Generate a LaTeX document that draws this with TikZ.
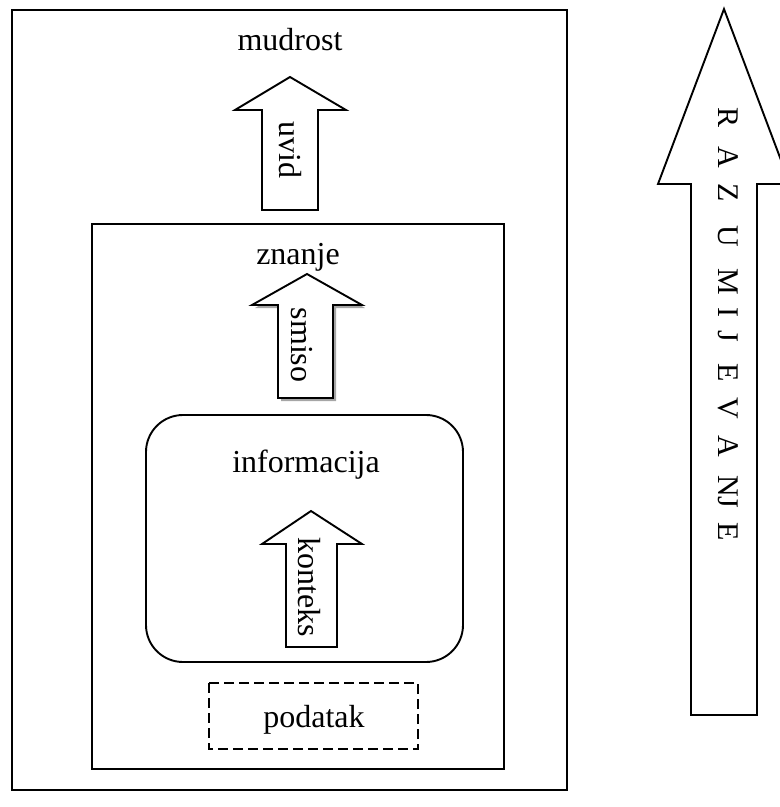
\documentclass[tikz,border=0pt]{standalone}
\usepackage{fontspec}
\setmainfont{Liberation Serif}
\begin{document}
\begin{tikzpicture}[x=1pt,y=-1pt,
  frame/.style={draw=black,line width=1.9pt},
  fatarrow/.style={draw=black,fill=white,line width=1.9pt,line join=miter},
  lbl/.style={inner sep=0pt,font=\fontsize{32}{38}\selectfont},
  arrowlbl/.style={lbl,rotate=-90,anchor=base},
  bigletter/.style={inner sep=0pt,font=\fontsize{30}{36}\selectfont,rotate=-90,anchor=base}]
\useasboundingbox (0,0) rectangle (780,807);
\begin{scope}
\clip (0,0) rectangle (780,807);

% outer frame: wisdom
\draw[frame] (12,10) rectangle (567,790);
% knowledge frame
\draw[frame] (92,224) rectangle (504,769);
% information frame
\draw[frame,rounded corners=37pt] (146,415) rectangle (463,662);
% data frame
\draw[frame,dash pattern=on 10pt off 5pt] (209,683) rectangle (418,749);

% arrow "uvid"
\draw[fatarrow] (290,77) -- (346,110) -- (318,110) -- (318,210) -- (262,210)
  -- (262,110) -- (235,110) -- cycle;
% arrow "smiso" with a soft offset shadow
\fill[gray!70] (310,277) -- (365,308) -- (336,308) -- (336,401) -- (281,401)
  -- (281,308) -- (255,308) -- cycle;
\draw[fatarrow] (307,274) -- (362,305) -- (333,305) -- (333,398) -- (278,398)
  -- (278,305) -- (252,305) -- cycle;
% arrow "konteks"
\draw[fatarrow] (311,511) -- (362,544) -- (337,544) -- (337,647) -- (286,647)
  -- (286,544) -- (262,544) -- cycle;

% big arrow on the right
\draw[fatarrow] (724,9) -- (790,184) -- (757,184) -- (757,715) -- (691,715)
  -- (691,184) -- (658,184) -- cycle;
\end{scope}

% level labels
\node[lbl,anchor=base] (mudrost) at (290,50) {mudrost};
\node[lbl,anchor=base] (znanje) at (298,264) {znanje};
\node[lbl,anchor=base] (informacija) at (306,472) {informacija};
\node[lbl,anchor=base] (podatak) at (314,727) {podatak};

% arrow labels
\node[arrowlbl] (uvid) at (279,150) {uvid};
\node[arrowlbl] (smiso) at (291,345) {smiso};
\node[arrowlbl] (konteks) at (298,587) {konteks};

% vertical lettering in the big arrow
\foreach \ch/\yy [count=\i] in {R/117,A/157,Z/193,U/236,M/282,I/312,J/336,E/373,V/408,A/446,NJ/492,E/532}
  \node[bigletter] (razl\i) at (718,\yy) {\ch};
\end{tikzpicture}
\end{document}
